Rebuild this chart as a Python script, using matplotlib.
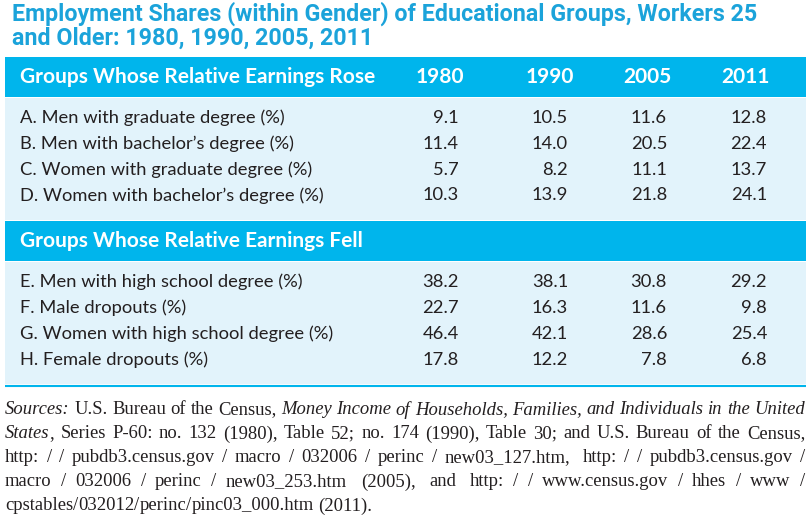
import matplotlib
matplotlib.use("Agg")
from matplotlib import pyplot as plt

# Table data
title_lines = ["Employment Shares (within Gender) of Educational Groups, Workers 25",
               "and Older: 1980, 1990, 2005, 2011"]
years = ["1980", "1990", "2005", "2011"]
section_titles = ["Groups Whose Relative Earnings Rose", "Groups Whose Relative Earnings Fell"]

rose_labels = ["A. Men with graduate degree (%)",
               "B. Men with bachelor\u2019s degree (%)",
               "C. Women with graduate degree (%)",
               "D. Women with bachelor\u2019s degree (%)"]
rose_1980 = [9.1, 11.4, 5.7, 10.3]
rose_1990 = [10.5, 14.0, 8.2, 13.9]
rose_2005 = [11.6, 20.5, 11.1, 21.8]
rose_2011 = [12.8, 22.4, 13.7, 24.1]

fell_labels = ["E. Men with high school degree (%)",
               "F. Male dropouts (%)",
               "G. Women with high school degree (%)",
               "H. Female dropouts (%)"]
fell_1980 = [38.2, 22.7, 46.4, 17.8]
fell_1990 = [38.1, 16.3, 42.1, 12.2]
fell_2005 = [30.8, 11.6, 28.6, 7.8]
fell_2011 = [29.2, 9.8, 25.4, 6.8]

# text between | marks is set in italics
source_lines = [
    "|Sources:| U.S. Bureau of the Census, |Money Income of Households, Families, and Individuals in the United|",
    "|States|, Series P-60: no. 132 (1980), Table 52; no. 174 (1990), Table 30; and U.S. Bureau of the Census,",
    "http://pubdb3.census.gov/macro/032006/perinc/new03_127.htm, http://pubdb3.census.gov/",
    "macro/032006/perinc/new03_253.htm (2005), and http://www.census.gov/hhes/www/",
    "cpstables/032012/perinc/pinc03_000.htm (2011).",
]

# Colours
title_blue = "#1ba3da"
band_blue = "#00b5ec"
body_blue = "#e2f3fb"
text_dark = "#231f20"

fig = plt.figure(figsize=(8.1, 5.17), dpi=100)
ax = fig.add_axes([0, 0, 1, 1])
ax.set_xlim(0, 810)
ax.set_ylim(517, 0)
ax.axis("off")
renderer = fig.canvas.get_renderer()

# Title, sized so the first line spans the same width as the original
title_objs = []
for i, line in enumerate(title_lines):
    t = ax.text(12, 14 + 24 * i, line, color=title_blue, fontsize=15, fontweight="bold",
                family="Roboto", va="center", ha="left")
    title_objs.append(t)
w0 = title_objs[0].get_window_extent(renderer).width
for t in title_objs:
    t.set_fontsize(15 * 751 / w0)

left, right = 5, 806
header_x = [464, 574, 671, 770]
value_x = [459, 568, 667, 767]
row_h = 25.8


def draw_block(top, section, labels, cols, show_years):
    # header band
    ax.add_patch(plt.Rectangle((left, top), right - left, 40, color=band_blue, lw=0))
    ax.text(20, top + 20, section, color="white", fontsize=15, fontweight="bold",
            family="Lato", va="center", ha="left")
    if show_years:
        for x, yr in zip(header_x, years):
            ax.text(x, top + 20, yr, color="white", fontsize=15, fontweight="bold",
                    family="Lato", va="center", ha="right")
    # body
    body_top = top + 41
    body_h = 20 + row_h * len(labels) - 1
    ax.add_patch(plt.Rectangle((left, body_top), right - left, body_h, color=body_blue, lw=0))
    for i, lab in enumerate(labels):
        y = body_top + 20 + row_h * i
        ax.text(20, y, lab, color=text_dark, fontsize=13.2, family="Lato", va="center", ha="left")
        for x, col in zip(value_x, cols):
            ax.text(x, y, f"{col[i]:.1f}", color=text_dark, fontsize=13.2, family="Lato",
                    va="center", ha="right")
    return body_top + body_h


end1 = draw_block(57, section_titles[0], rose_labels,
                  [rose_1980, rose_1990, rose_2005, rose_2011], True)
end2 = draw_block(end1 + 1, section_titles[1], fell_labels,
                  [fell_1980, fell_1990, fell_2005, fell_2011], False)
ax.plot([left, right], [end2 + 1.5, end2 + 1.5], color=band_blue, lw=1.5, solid_capstyle="butt")


# Sources note, justified; URLs may also stretch around each slash
def parse(line):
    words = [[]]
    for i, seg in enumerate(line.split("|")):
        italic = i % 2 == 1
        for j, p in enumerate(seg.split(" ")):
            if j > 0:
                words.append([])
            if p:
                words[-1].append((p, italic))
    return [w for w in words if w]


def split_slash(txt):
    out = []
    cur = ""
    for ch in txt:
        if ch == "/":
            if cur:
                out.append(cur)
            out.append("/")
            cur = ""
        else:
            cur += ch
    if cur:
        out.append(cur)
    return out


src_size = 13.4
fam = "Liberation Serif"
s = ax.text(0, 0, "a a", fontsize=src_size, family=fam)
s2 = ax.text(0, 0, "aa", fontsize=src_size, family=fam)
space_w = s.get_window_extent(renderer).width - s2.get_window_extent(renderer).width
s.remove()
s2.remove()

for li, line in enumerate(source_lines):
    y = 410 + 24 * li
    # pieces: (text object, width, gap kind) 0 none, 1 slash gap, 2 word space
    pieces = []
    for wi, w in enumerate(parse(line)):
        first = True
        for txt, it in w:
            subs = split_slash(txt) if "/" in txt else [txt]
            for si, sub in enumerate(subs):
                t = ax.text(0, y, sub, fontsize=src_size, family=fam,
                            style="italic" if it else "normal", color=text_dark,
                            va="center", ha="left")
                pw = t.get_window_extent(renderer).width
                if first and wi > 0:
                    kind = 2
                elif si > 0:
                    kind = 1
                else:
                    kind = 0
                pieces.append((t, pw, kind))
                first = False
    natural = sum(p[1] for p in pieces) + space_w * sum(1 for p in pieces if p[2] == 2)
    ngaps = sum(1 for p in pieces if p[2] > 0)
    if li < len(source_lines) - 1 and ngaps > 0:
        extra = (right - 1 - left - natural) / ngaps
    else:
        extra = 0
    x = left
    for t, pw, kind in pieces:
        if kind == 2:
            x += space_w + extra
        elif kind == 1:
            x += extra
        t.set_x(x)
        x += pw

fig.savefig("out.png", dpi=100, facecolor="white")
